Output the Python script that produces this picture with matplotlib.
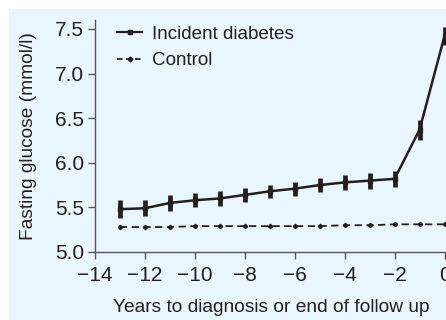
import numpy as np
import matplotlib
matplotlib.use('Agg')
import matplotlib.pyplot as plt
from matplotlib.patches import Rectangle
from matplotlib.lines import Line2D

years = [-13, -12, -11, -10, -9, -8, -7, -6, -5, -4, -3, -2, -1, 0]
diabetes = [5.48, 5.49, 5.55, 5.58, 5.60, 5.64, 5.68, 5.71, 5.75, 5.78, 5.80, 5.82, 6.37, 7.42]
diabetes_err = [0.10, 0.09, 0.09, 0.08, 0.08, 0.08, 0.07, 0.08, 0.08, 0.08, 0.09, 0.09, 0.11, 0.10]
control = [5.28, 5.28, 5.28, 5.29, 5.29, 5.29, 5.29, 5.29, 5.29, 5.30, 5.30, 5.31, 5.31, 5.31]
xticks = [-14, -12, -10, -8, -6, -4, -2, 0]
yticks = [5.0, 5.5, 6.0, 6.5, 7.0, 7.5]

plt.rcParams['font.family'] = ['Liberation Sans', 'DejaVu Sans']
ink = '#231f20'
bg = '#e9f6fd'

fig = plt.figure(figsize=(4.46, 3.2), dpi=100, facecolor='white')
fig.patches.append(Rectangle((9 / 446, 0), 1, 1 - 9 / 320, transform=fig.transFigure,
                             facecolor=bg, edgecolor='none', zorder=-10))

ax = fig.add_axes([95 / 446, 68 / 320, 352 / 446, 232 / 320])
ax.set_facecolor('none')

ax.errorbar(years, diabetes, yerr=diabetes_err, color=ink, lw=1.8, elinewidth=3.4,
            capsize=0, marker='s', markersize=2.5, zorder=3)
ax.plot(years, control, color=ink, lw=1.3, ls=(0, (4, 2.5)), marker='D', markersize=2.2,
        zorder=3)

ax.set_xlim(-14, 0.1)
ax.set_ylim(5.0, 7.6)
ax.set_xticks(xticks)
ax.set_xticklabels(['\u2212' + str(-t) if t < 0 else str(t) for t in xticks])
ax.set_yticks(yticks)
ax.set_yticklabels(['%.1f' % t for t in yticks])

for s in ['top', 'right']:
    ax.spines[s].set_visible(False)
for s in ['left', 'bottom']:
    ax.spines[s].set_color('#555555')
    ax.spines[s].set_linewidth(1.0)
ax.tick_params(direction='out', length=5, width=1.0, color='#555555',
               labelsize=15, labelcolor=ink, pad=3)
ax.tick_params(axis='x', pad=5)

ax.set_xlabel('Years to diagnosis or end of follow up', fontsize=13.8, color=ink, labelpad=10)
ax.set_ylabel('Fasting glucose (mmol/l)', fontsize=13.8, color=ink, labelpad=13)

handles = [
    Line2D([], [], color=ink, lw=1.6, marker='s', markersize=3),
    Line2D([], [], color=ink, lw=1.3, ls=(0, (3, 2)), marker='D', markersize=2.5),
]
leg = ax.legend(handles, ['Incident diabetes', 'Control'], loc='upper left',
                bbox_to_anchor=(0.015, 1.05), frameon=False,
                fontsize=13.6, handlelength=1.3, handletextpad=0.55, labelspacing=0.5)
for t in leg.get_texts():
    t.set_color(ink)

fig.savefig('out.png', dpi=100, facecolor=fig.get_facecolor())
